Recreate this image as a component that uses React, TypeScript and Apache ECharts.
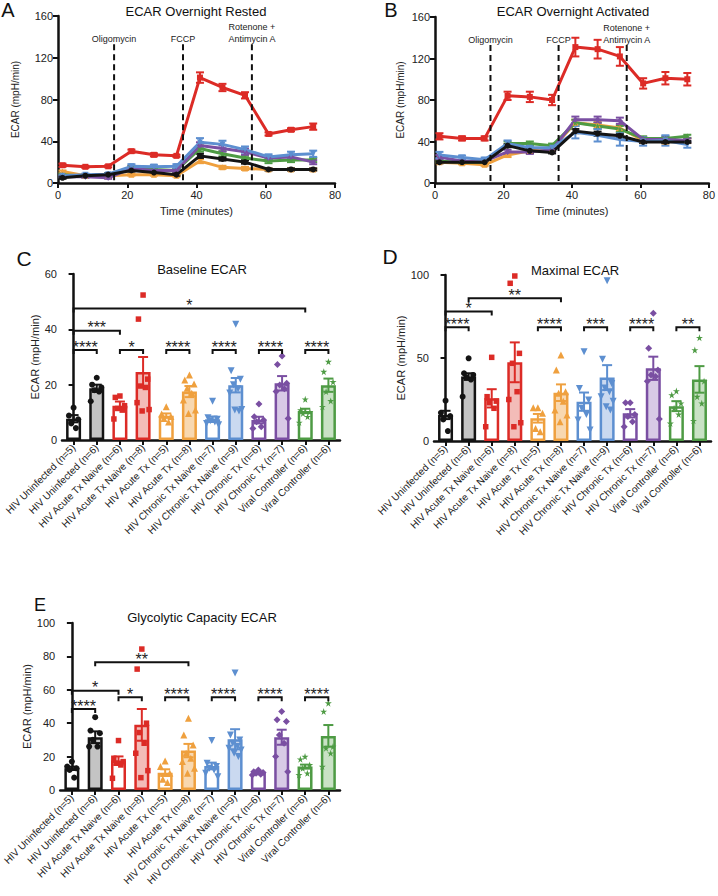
import React, { useEffect, useRef } from 'react';
import * as echarts from 'echarts';

const FONT = "'Liberation Sans', Arial, Helvetica, sans-serif";

// ---------- shared group styling ----------
const GROUP_COLORS = ['#141414', '#dc2b26', '#efa03e', '#5d8fd0', '#7a4fa2', '#4e9b44'];
const GROUP_TINTS = ['#c4c4c4', '#f3bcb8', '#f8d8b0', '#cad9f0', '#d8cae6', '#c9e2c5'];
const STAR = 'path://M50,2 L61,37 L98,37 L68,59 L79,95 L50,73 L21,95 L32,59 L2,37 L39,37 Z';
const GROUP_SYMBOLS = ['circle', 'rect', 'triangle', 'triangle', 'diamond', STAR];
const GROUP_ROTATE = [0, 0, 0, 180, 0, 0];
const GROUP_SIZES = [6, 5.5, 7, 7, 7, 7];

// ---------- time courses (A, B) ----------
const TIMES = [1.3, 7.9, 14.5, 21.2, 27.7, 34.2, 41, 47.5, 54, 60.8, 67.3, 73.7];
const TIME_TICKS_MAX = 80;

const restedBlack = [5, 7, 8, 12, 10, 8, 26, 23, 20, 13, 13, 13];
const restedBlackErr = [1, 1, 1, 1, 1, 1, 2, 1.5, 1.5, 1, 1, 1];
const restedRed = [17, 15.5, 16, 30.5, 27, 26, 101, 91.5, 84, 47, 51, 54];
const restedRedErr = [1.5, 1, 1, 1.5, 1.5, 1, 5, 3.5, 3, 1.5, 1.5, 3];
const restedOrange = [11, 7, 7, 8, 8, 7, 21, 15, 14, 13, 13, 13];
const restedOrangeErr = [1, 1, 1, 1, 1, 1, 2, 1.5, 1.5, 1, 1, 1];
const restedBlue = [7, 8, 8.5, 16, 15.5, 16, 39, 37, 32, 25, 27, 28];
const restedBlueErr = [1, 1, 1, 2, 2, 2, 4, 3.5, 3, 2.5, 3, 3];
const restedPurple = [6, 6, 5, 14, 12, 12, 36, 33, 30, 24, 25, 20];
const restedPurpleErr = [1, 1, 1, 2, 2, 1.5, 3, 3, 3, 2, 2, 2];
const restedGreen = [8, 6.5, 8, 15, 13, 12, 33, 28, 24, 21, 22, 22];
const restedGreenErr = [1, 1, 1, 1.5, 1.5, 1.5, 3, 2.5, 2, 2, 2, 2];

const activatedBlack = [20, 20, 20, 36, 31, 29.5, 50, 47.5, 45.5, 39.5, 39.5, 39.5];
const activatedBlackErr = [1, 1, 1, 1.5, 1.5, 1, 2, 2, 1.5, 1, 1, 1];
const activatedRed = [45, 43, 43, 84, 83, 80, 131, 129, 122, 96, 101, 100];
const activatedRedErr = [3, 2, 2, 4, 5, 5, 9, 9, 9, 5, 6, 6];
const activatedOrange = [20, 19, 17.5, 27, 31, 33, 58, 56, 53, 41, 40, 41];
const activatedOrangeErr = [1, 1, 1, 2, 2, 2, 3, 3, 3, 2, 2, 2];
const activatedBlue = [27, 24.5, 22.5, 38, 34, 34, 49, 46, 42, 40, 41, 37];
const activatedBlueErr = [3, 2, 2, 3, 2, 2, 6, 6, 6, 4, 5, 3];
const activatedPurple = [25, 21, 21, 30, 30, 32, 61, 61, 60, 42, 42, 41];
const activatedPurpleErr = [2, 1, 1, 2, 2, 2, 3, 3, 3, 2, 2, 2];
const activatedGreen = [21, 20, 20, 38, 38, 36, 58, 55, 52, 43, 43, 45];
const activatedGreenErr = [1, 1, 1, 2, 2, 2, 3, 3, 3, 2, 2, 1.5];

const INJ_X = [16.2, 36.1, 56];
const INJ_LABELS = ['Oligomycin', 'FCCP', 'Rotenone +\nAntimycin A'];
const INJ_TOP = 133;

// ---------- bar panels (C, D, E) ----------
const CATEGORIES = [
  'HIV Uninfected (n=5)', 'HIV Uninfected (n=6)',
  'HIV Acute Tx Naive (n=6)', 'HIV Acute Tx Naive (n=8)',
  'HIV Acute Tx (n=5)', 'HIV Acute Tx (n=8)',
  'HIV Chronic Tx Naive (n=7)', 'HIV Chronic Tx Naive (n=9)',
  'HIV Chronic Tx (n=6)', 'HIV Chronic Tx (n=7)',
  'Viral Controller (n=6)', 'Viral Controller (n=6)',
];

const baselineMean = [7.7, 18.7, 12.4, 24.6, 8.8, 17.5, 7.5, 19.8, 7.2, 20.5, 10.5, 19.8];
const baselineSem = [1.3, 1.3, 1.5, 5.4, 0.8, 2.0, 1.0, 2.6, 1.2, 2.6, 0.8, 2.4];
const baselinePoints = [
  [11.7, 8.8, 7.5, 6.0, 4.3],
  [22.5, 20, 19, 18, 17.5, 14],
  [15.9, 15.4, 12.4, 11.4, 10.8, 7.6],
  [52.4, 43.7, 22, 19.5, 19, 13.5, 11, 10.5],
  [12, 9.4, 8.5, 7.8, 6.5],
  [23.5, 21.7, 20.2, 18.7, 16.9, 14.5, 10.8, 9.6],
  [14, 8, 7.5, 7, 6.5, 6, 5.5],
  [41.8, 25, 22, 20, 18.5, 17, 11, 10.8, 10.5],
  [13, 8.4, 7.2, 6.6, 4.8, 4.2],
  [30.4, 27.3, 20.5, 19.9, 18.5, 17.5, 7.8],
  [14.7, 10.8, 10.2, 9.6, 8.4, 6.3],
  [28.3, 24.7, 21, 17.5, 14.1, 12],
];
const baselineSig: [number, number, number, string][] = [
  [0, 10, 47.5, '*'], [0, 2, 39.5, '***'], [0, 1, 32.5, '****'], [2, 3, 32.5, '*'],
  [4, 5, 32.5, '****'], [6, 7, 32.5, '****'], [8, 9, 32.5, '****'], [10, 11, 32.5, '****'],
];

const maximalMean = [15.7, 38.8, 25.7, 47.4, 13.7, 29.1, 23.7, 38.2, 16.7, 43.8, 21, 37.1];
const maximalSem = [2.5, 2, 5.5, 12, 2.6, 5, 5.5, 7.5, 2.5, 7, 3, 8];
const maximalPoints = [
  [24.3, 17, 15, 13, 6],
  [49.8, 40.8, 39.8, 38.4, 37, 26.7],
  [50.4, 26.7, 24, 23, 19.7, 8.6],
  [99.4, 95, 52.8, 46.8, 29.7, 25, 11, 8.6],
  [20, 20, 16.7, 7.6, 5.6],
  [51.8, 42.8, 29.7, 28.7, 24, 18.6, 15.7, 11.6],
  [53.8, 31.7, 24.7, 19.7, 16, 12.7, 6.6],
  [96.6, 49.2, 34.7, 32, 29.7, 26.7, 24, 20.7, 18.7],
  [23, 23, 16, 14.7, 11.6, 8.6],
  [76.9, 55.8, 42.8, 39.8, 38.8, 36, 13.3],
  [30.1, 27.7, 22.7, 19.7, 16, 10.6],
  [62.2, 54.8, 36, 26.7, 22.7, 12.2],
];
const maximalSig: [number, number, number, string][] = [
  [1, 5, 86, '**'], [0, 2, 78, '*'], [0, 1, 68.5, '****'], [4, 5, 68.5, '****'],
  [6, 7, 68.5, '***'], [8, 9, 68.5, '****'], [10, 11, 68.5, '**'],
];

const capacityMean = [13, 31.6, 17.6, 39, 10.4, 23.6, 14.4, 30.4, 10.4, 31.6, 14, 32.4];
const capacitySem = [1, 3.5, 2.5, 9.5, 2, 4, 2, 6, 0.8, 4.5, 1.2, 6.5];
const capacityPoints = [
  [17, 14, 13, 12, 7.4],
  [43.6, 35.6, 34, 30, 26, 26],
  [29.6, 19, 17, 16, 15, 7],
  [84.4, 72.4, 40, 34.4, 28, 22, 11.6, 7.4],
  [17.4, 14, 10, 6.5, 4.5],
  [43, 33, 27, 22, 19, 17, 13, 10],
  [29.6, 16, 14, 13, 12, 10, 8],
  [70, 33, 30, 28, 26, 25, 24, 22, 20],
  [12, 11, 10.5, 10, 9.5, 9],
  [47, 42, 41, 33, 28, 20, 11],
  [20, 18.4, 15, 13, 10, 9],
  [52, 47, 26, 25, 22, 14],
];
const capacitySig: [number, number, number, string][] = [
  [1, 5, 76.5, '**'], [0, 2, 59.5, '*'], [0, 1, 48.5, '****'], [2, 3, 55.5, '*'],
  [4, 5, 55.5, '****'], [6, 7, 55.5, '****'], [8, 9, 55.5, '****'], [10, 11, 55.5, '****'],
];

const JITTER = [0, -0.2, 0.2, -0.1, 0.1, -0.26, 0.26, -0.04, 0.14];

// ---------- helpers ----------
const AXIS_LINE = { show: true, lineStyle: { color: '#111', width: 2.5 } };
const AXIS_TICK = { show: true, length: 5, lineStyle: { color: '#111', width: 2 } };
const AXIS_LABEL = { color: '#222', fontSize: 11, fontFamily: FONT };

function errorBar(color: string | ((i: number) => string), cap: number) {
  return (params: any, api: any) => {
    const x = api.value(0), m = api.value(1), s = api.value(2);
    const hi = api.coord([x, m + s]);
    const lo = api.coord([x, m - s]);
    const c = typeof color === 'function' ? color(params.dataIndex) : color;
    const style = { stroke: c, lineWidth: 2, fill: null };
    return {
      type: 'group',
      children: [
        { type: 'line', shape: { x1: hi[0], y1: hi[1], x2: lo[0], y2: lo[1] }, style },
        { type: 'line', shape: { x1: hi[0] - cap, y1: hi[1], x2: hi[0] + cap, y2: hi[1] }, style },
        { type: 'line', shape: { x1: lo[0] - cap, y1: lo[1], x2: lo[0] + cap, y2: lo[1] }, style },
      ],
    };
  };
}

function brackets(sig: [number, number, number, string][]) {
  return (params: any, api: any) => {
    const s = sig[params.dataIndex];
    const a = api.coord([s[0], s[2]]);
    const b = api.coord([s[1], s[2]]);
    return {
      type: 'group',
      children: [
        {
          type: 'polyline',
          shape: { points: [[a[0], a[1] + 4], [a[0], a[1]], [b[0], b[1]], [b[0], b[1] + 4]] },
          style: { stroke: '#111', lineWidth: 2, fill: null },
        },
        {
          type: 'text',
          x: (a[0] + b[0]) / 2,
          y: a[1] + 5,
          style: { text: s[3], fontSize: 16, fontFamily: FONT, fill: '#222', align: 'center', verticalAlign: 'bottom' },
        },
      ],
    };
  };
}

function timeSeries(gridIdx: number, groups: number[][], errs: number[][]) {
  const order = [2, 5, 4, 3, 1, 0];
  const out: any[] = [];
  order.forEach((g) => {
    out.push({
      type: 'custom',
      xAxisIndex: gridIdx,
      yAxisIndex: gridIdx,
      renderItem: errorBar(GROUP_COLORS[g], 4),
      data: TIMES.map((t, k) => [t, groups[g][k], errs[g][k]]),
      encode: { x: 0, y: 1 },
      itemStyle: { color: GROUP_COLORS[g] },
      z: 3,
      silent: true,
    });
    out.push({
      type: 'line',
      xAxisIndex: gridIdx,
      yAxisIndex: gridIdx,
      data: TIMES.map((t, k) => [t, groups[g][k]]),
      symbol: GROUP_SYMBOLS[g],
      symbolRotate: GROUP_ROTATE[g],
      symbolSize: 6,
      showSymbol: true,
      lineStyle: { color: GROUP_COLORS[g], width: 3 },
      itemStyle: { color: GROUP_COLORS[g] },
      z: 3,
    });
  });
  out.push({
    type: 'custom',
    xAxisIndex: gridIdx,
    yAxisIndex: gridIdx,
    data: INJ_X.map((x) => [x, INJ_TOP]),
    encode: { x: 0, y: 1 },
    itemStyle: { color: '#111' },
    z: 5,
    silent: true,
    renderItem: (params: any, api: any) => {
      const x = api.value(0);
      const top = api.coord([x, api.value(1)]);
      const bot = api.coord([x, 0]);
      return {
        type: 'group',
        children: [
          {
            type: 'line',
            shape: { x1: top[0], y1: top[1], x2: bot[0], y2: bot[1] },
            style: { stroke: '#111', lineWidth: 2, lineDash: [6, 4] },
          },
          {
            type: 'text',
            x: top[0],
            y: top[1] + 1,
            style: {
              text: INJ_LABELS[params.dataIndex], fontSize: 9, lineHeight: 12, fontFamily: FONT,
              fill: '#222', align: 'center', verticalAlign: 'bottom',
            },
          },
        ],
      };
    },
  });
  return out;
}

function barSeries(gridIdx: number, valueAxisIdx: number, mean: number[], sem: number[], points: number[][], sig: [number, number, number, string][]) {
  const out: any[] = [];
  out.push({
    type: 'bar',
    xAxisIndex: gridIdx,
    yAxisIndex: gridIdx,
    barWidth: 15,
    z: 2,
    data: mean.map((v, i) => {
      const g = Math.floor(i / 2);
      const dotted = i % 2 === 1;
      return {
        value: v,
        itemStyle: {
          color: dotted ? GROUP_TINTS[g] : '#ffffff',
          borderColor: GROUP_COLORS[g],
          borderWidth: 2.5,
        },
      };
    }),
  });
  out.push({
    type: 'custom',
    xAxisIndex: gridIdx,
    yAxisIndex: gridIdx,
    renderItem: errorBar((i: number) => GROUP_COLORS[Math.floor(i / 2)], 5),
    data: mean.map((v, i) => [i, v, sem[i]]),
    encode: { x: 0, y: 1 },
    z: 3,
    silent: true,
  });
  for (let g = 0; g < 6; g++) {
    const data: number[][] = [];
    [2 * g, 2 * g + 1].forEach((c) => {
      points[c].forEach((v, k) => data.push([c + JITTER[k % JITTER.length], v]));
    });
    out.push({
      type: 'scatter',
      xAxisIndex: valueAxisIdx,
      yAxisIndex: gridIdx,
      data,
      symbol: GROUP_SYMBOLS[g],
      symbolRotate: GROUP_ROTATE[g],
      symbolSize: GROUP_SIZES[g],
      itemStyle: { color: GROUP_COLORS[g], opacity: 1 },
      z: 4,
    });
  }
  out.push({
    type: 'custom',
    xAxisIndex: gridIdx,
    yAxisIndex: gridIdx,
    renderItem: brackets(sig),
    data: sig.map((s) => [s[0], s[1], s[2]]),
    encode: { x: [0, 1], y: 2 },
    itemStyle: { color: '#222' },
    z: 5,
    clip: false,
    silent: true,
  });
  return out;
}

function buildOption() {
  const grids = [
    { left: 58, top: 16, width: 277, height: 167 },
    { left: 435, top: 17, width: 276, height: 166 },
    { left: 62, top: 274, width: 278, height: 166 },
    { left: 434, top: 275, width: 277, height: 166 },
    { left: 60, top: 623, width: 280, height: 167 },
  ];
  const timeX = (gi: number) => ({
    type: 'value', gridIndex: gi, min: 0, max: TIME_TICKS_MAX, interval: 20,
    name: 'Time (minutes)', nameLocation: 'middle', nameGap: 22,
    nameTextStyle: { fontSize: 11, fontFamily: FONT, color: '#222' },
    splitLine: { show: false }, axisLine: AXIS_LINE, axisTick: AXIS_TICK,
    axisLabel: { ...AXIS_LABEL, margin: 6 },
  });
  const catX = (gi: number) => ({
    type: 'category', gridIndex: gi, data: CATEGORIES,
    axisLine: AXIS_LINE, axisTick: { ...AXIS_TICK, alignWithLabel: true },
    axisLabel: { color: '#222', fontSize: 10, fontFamily: FONT, rotate: 45, interval: 0, margin: 6 },
  });
  const hiddenX = (gi: number) => ({ type: 'value', gridIndex: gi, min: -0.5, max: 11.5, show: false });
  const yAx = (gi: number, max: number, interval: number, nameGap: number, nameSize: number) => ({
    type: 'value', gridIndex: gi, min: 0, max, interval,
    name: 'ECAR (mpH/min)', nameLocation: 'middle', nameGap,
    nameTextStyle: { fontSize: nameSize, fontFamily: FONT, color: '#222' },
    splitLine: { show: false }, axisLine: AXIS_LINE, axisTick: AXIS_TICK,
    axisLabel: { ...AXIS_LABEL, margin: 5 },
  });

  const restedGroups = [restedBlack, restedRed, restedOrange, restedBlue, restedPurple, restedGreen];
  const restedErrs = [restedBlackErr, restedRedErr, restedOrangeErr, restedBlueErr, restedPurpleErr, restedGreenErr];
  const actGroups = [activatedBlack, activatedRed, activatedOrange, activatedBlue, activatedPurple, activatedGreen];
  const actErrs = [activatedBlackErr, activatedRedErr, activatedOrangeErr, activatedBlueErr, activatedPurpleErr, activatedGreenErr];

  const txt = (text: string, x: number, y: number, size: number) => ({
    type: 'text', x, y,
    style: { text, fontSize: size, fontFamily: FONT, fill: '#111', align: 'center', verticalAlign: 'middle' },
  });

  return {
    animation: false,
    backgroundColor: '#ffffff',
    grid: grids,
    xAxis: [timeX(0), timeX(1), catX(2), catX(3), catX(4), hiddenX(2), hiddenX(3), hiddenX(4)],
    yAxis: [
      yAx(0, 160, 40, 38, 10), yAx(1, 160, 40, 30, 10),
      yAx(2, 60, 20, 17, 11), yAx(3, 100, 50, 23, 11), yAx(4, 100, 20, 21, 11),
    ],
    graphic: [
      txt('A', 8, 10, 20), txt('B', 391, 10, 20), txt('C', 24, 258, 21), txt('D', 390, 256, 21), txt('E', 40, 605, 18),
      txt('ECAR Overnight Rested', 196, 11, 13),
      txt('ECAR Overnight Activated', 573, 11, 13),
      txt('Baseline ECAR', 202, 269, 13),
      txt('Maximal ECAR', 575, 270, 13),
      txt('Glycolytic Capacity ECAR', 202, 617, 13),
    ],
    series: [
      ...timeSeries(0, restedGroups, restedErrs),
      ...timeSeries(1, actGroups, actErrs),
      ...barSeries(2, 5, baselineMean, baselineSem, baselinePoints, baselineSig),
      ...barSeries(3, 6, maximalMean, maximalSem, maximalPoints, maximalSig),
      ...barSeries(4, 7, capacityMean, capacitySem, capacityPoints, capacitySig),
    ],
  };
}

export default function App() {
  const ref = useRef<HTMLDivElement>(null);
  useEffect(() => {
    document.body.style.margin = '0';
    const chart = echarts.init(ref.current!, undefined, { renderer: 'svg' });
    chart.setOption(buildOption() as any);
    return () => chart.dispose();
  }, []);
  return <div ref={ref} style={{ width: 718, height: 896 }} />;
}
